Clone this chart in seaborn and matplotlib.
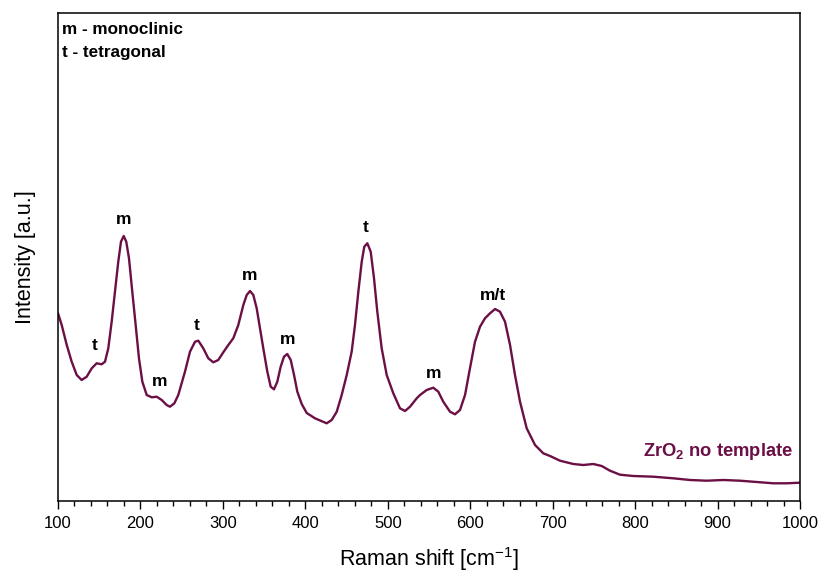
import matplotlib
matplotlib.use("Agg")
import matplotlib.pyplot as plt
from matplotlib.ticker import MultipleLocator
import seaborn as sns
import pandas as pd

# Raman spectrum; intensity in arbitrary units
shift = [100, 104.5, 110.6, 116.6, 122.7, 128.7, 134.8, 140.9, 146.9, 153.0, 157.0, 161.0,
         165.1, 169.1, 173.1, 176.4, 179.7, 182.8, 186.1, 190.1, 194.2, 198.2, 202.3, 207.6,
         213.7, 219.7, 225.8, 231.8, 235.8, 241.1, 245.9, 254.0, 260.1, 266.2, 270.2, 276.2,
         282.3, 288.4, 294.4, 300.5, 306.6, 312.6, 318.7, 324.8, 328.9, 332.9, 336.9, 341.0,
         345.0, 349.0, 353.9, 358.0, 362.0, 366.0, 370.1, 374.1, 378.1, 382.3, 386.3, 390.3,
         395.6, 401.7, 411.7, 425.9, 432.0, 438.1, 444.1, 450.2, 456.2, 460.2, 464.3, 468.4,
         471.5, 475.2, 479.3, 483.3, 487.3, 492.6, 498.7, 506.7, 514.8, 520.9, 527.0, 535.1,
         539.1, 547.2, 555.2, 561.3, 567.3, 575.5, 581.5, 587.6, 593.7, 599.7, 605.8, 611.9,
         617.9, 624.0, 630.1, 636.1, 642.2, 648.3, 654.3, 660.4, 668.5, 678.6, 688.6, 696.8,
         708.9, 725.0, 737.2, 749.3, 759.5, 769.5, 781.7, 797.8, 822.1, 846.3, 866.6, 886.8,
         907.0, 927.2, 947.5, 967.6, 983.9, 1000]
intensity = [187.7, 176, 156, 139.3, 126, 121, 124.3, 132.7, 137.7, 136.7, 139.3, 152.7,
             179.3, 209.3, 239.3, 259.3, 265, 259.3, 242.7, 209.3, 176, 142.7, 119.3, 106,
             103.7, 104.3, 101, 96, 94.3, 97.7, 106, 129.3, 149.3, 159.3, 160.3, 152.7,
             142.7, 138.7, 141, 148.7, 156, 162.7, 176, 196, 206, 210, 206, 192.7,
             172.7, 152.7, 129.3, 114.3, 111.7, 119.3, 134.3, 144.3, 147, 141, 126, 109.3,
             97, 88, 82.7, 77.7, 81, 89.3, 106, 126, 149.3, 176, 209.3, 239.3,
             254.3, 257.7, 249.3, 222.7, 189.3, 152.7, 126, 107.7, 92.7, 90, 94.3, 102.7,
             106, 111, 113.3, 109.3, 99.3, 89.3, 86.7, 91, 106, 132.7, 159.3, 174.3,
             182.7, 187.7, 192, 189.3, 179.3, 156, 126, 99.3, 72.7, 56, 47.7, 45,
             40.3, 37, 36, 37, 35, 30.3, 26.3, 25, 24.3, 22.7, 21, 20.3,
             21, 20.3, 19, 17.7, 17.7, 18.3]

peak_labels = ["t", "m", "m", "t", "m", "m", "t", "m", "m/t"]
peak_x = [144.9, 180, 223.7, 268.6, 332.9, 379, 473.6, 556, 627.6]
peak_y = [155, 281, 119, 176, 225, 162, 273, 128, 206]

legend_lines = ["m - monoclinic", "t - tetragonal"]
sample_name = r"ZrO$_\mathbf{2}$ no template"

line_color = "#6B0F45"

sns.set_style("ticks")
plt.rcParams["font.family"] = ["Liberation Sans", "DejaVu Sans"]
plt.rcParams["mathtext.fontset"] = "custom"
plt.rcParams["mathtext.rm"] = "Liberation Sans"
plt.rcParams["mathtext.bf"] = "Liberation Sans:bold"
plt.rcParams["text.color"] = "black"
plt.rcParams["axes.labelcolor"] = "black"
plt.rcParams["xtick.color"] = "black"
plt.rcParams["ytick.color"] = "black"

fig = plt.figure(figsize=(8.23, 5.74), dpi=100)
ax = fig.add_axes([58 / 823, 1 - 501 / 574, 742 / 823, 488 / 574])

df = pd.DataFrame({"shift": shift, "intensity": intensity})
sns.lineplot(data=df, x="shift", y="intensity", ax=ax, color=line_color, lw=1.7, sort=False)

ax.set_xlim(100, 1000)
ax.set_ylim(0, 488)
ax.set_yticks([])
ax.xaxis.set_major_locator(MultipleLocator(100))
ax.xaxis.set_minor_locator(MultipleLocator(20))
ax.tick_params(axis="x", which="major", direction="out", length=6, width=1, pad=5,
               labelsize=12, colors="black")
ax.tick_params(axis="x", which="minor", direction="out", length=3.5, width=1, colors="black")
for s in ax.spines.values():
    s.set_visible(True)
    s.set_linewidth(1.1)
    s.set_color("black")

ax.set_xlabel("Raman shift [cm$^{-1}$]", fontsize=15.5, labelpad=10)
ax.set_ylabel("Intensity [a.u.]", fontsize=15.5, labelpad=16)

for lab, px, py in zip(peak_labels, peak_x, peak_y):
    ax.text(px, py, lab, ha="center", va="center", fontsize=12.5, fontweight="bold", color="black")

ax.text(4 / 742, 1 - 17 / 488, legend_lines[0], transform=ax.transAxes, ha="left", va="center",
        fontsize=12.3, fontweight="bold")
ax.text(4 / 742, 1 - 40 / 488, legend_lines[1], transform=ax.transAxes, ha="left", va="center",
        fontsize=12.3, fontweight="bold")

ax.text(991.5, 50, sample_name, ha="right", va="center", fontsize=13.2,
        fontweight="bold", color=line_color)

fig.savefig("out.png", dpi=100)
